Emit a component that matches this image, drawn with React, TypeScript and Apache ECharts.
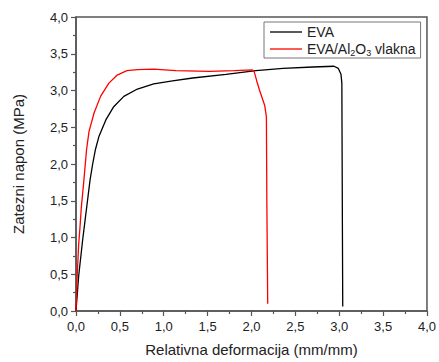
import React, { useEffect, useRef } from "react";
import * as echarts from "echarts";

const evaX = [0, 0.03, 0.076, 0.105, 0.13, 0.16, 0.19, 0.22, 0.26, 0.34, 0.43, 0.545, 0.7, 0.886, 1.1, 1.33, 1.71, 2.05, 2.36, 2.7, 2.94, 2.99, 3.02, 3.03, 3.035, 3.04];
const evaY = [0, 0.47, 0.97, 1.25, 1.49, 1.78, 2.0, 2.19, 2.37, 2.6, 2.78, 2.92, 3.02, 3.09, 3.13, 3.17, 3.22, 3.27, 3.3, 3.32, 3.33, 3.3, 3.22, 3.1, 1.5, 0.06];

const redX = [0, 0.01, 0.03, 0.045, 0.06, 0.09, 0.12, 0.148, 0.205, 0.28, 0.375, 0.47, 0.58, 0.7, 0.886, 1.14, 1.52, 1.8, 2.01, 2.03, 2.06, 2.09, 2.15, 2.17, 2.175, 2.185];
const redY = [0, 0.38, 0.9, 1.13, 1.4, 1.78, 2.19, 2.44, 2.69, 2.92, 3.1, 3.21, 3.27, 3.285, 3.29, 3.27, 3.26, 3.27, 3.28, 3.26, 3.13, 3.01, 2.8, 2.64, 1.5, 0.1];

const seriesNames = ["EVA", "EVA/Al2O3 vlakna"];
const xTitle = "Relativna deformacija (mm/mm)";
const yTitle = "Zatezni napon (MPa)";

const fmt = (v: number) => v.toFixed(1).replace(".", ",");
const FONT = "Liberation Sans, Arial, sans-serif";

export default function App() {
  const ref = useRef<HTMLDivElement>(null);
  useEffect(() => {
    if (!ref.current) return;
    const chart = echarts.init(ref.current, null, { renderer: "svg" });
    const axisCommon = {
      type: "value",
      min: 0,
      max: 4,
      interval: 0.5,
      splitLine: { show: false },
      axisLine: { show: true, lineStyle: { color: "#555", width: 1.5 } },
      axisTick: { show: true, inside: false, length: 5, lineStyle: { color: "#555", width: 1.2 } },
      minorTick: { show: true, splitNumber: 2, length: 3, lineStyle: { color: "#555", width: 1.2 } },
      axisLabel: { formatter: fmt, color: "#222", fontSize: 13, fontFamily: FONT },
      nameLocation: "middle",
      nameTextStyle: { fontSize: 15, color: "#222", fontFamily: FONT },
    };
    chart.setOption({
      animation: false,
      grid: { left: 76, right: 11, top: 17, bottom: 51, show: true, borderColor: "#555", borderWidth: 1.5, backgroundColor: "transparent" },
      xAxis: { ...axisCommon, name: xTitle, nameGap: 31, axisLabel: { ...axisCommon.axisLabel, margin: 9 } },
      yAxis: { ...axisCommon, name: yTitle, nameGap: 50, axisLabel: { ...axisCommon.axisLabel, margin: 8 } },
      legend: {
        left: 264,
        top: 22,
        orient: "vertical",
        icon: "rect",
        itemWidth: 32,
        itemHeight: 1.3,
        itemGap: 2,
        padding: [3, 5, 1, 6],
        borderColor: "#777",
        borderWidth: 1,
        data: seriesNames,
        formatter: (n: string) =>
          n === "EVA" ? "{a|EVA}" : "{a|EVA/Al}{s|2}{a|O}{s|3}{a| vlakna}",
        textStyle: {
          fontFamily: FONT,
          rich: {
            a: { fontSize: 14, color: "#222", fontFamily: FONT, lineHeight: 15 },
            s: { fontSize: 9, color: "#222", fontFamily: FONT, padding: [7, 0, 0, 0], lineHeight: 15 },
          },
        },
      },
      series: [
        {
          name: seriesNames[0],
          type: "line",
          symbol: "none",
          data: evaX.map((x, i) => [x, evaY[i]]),
          lineStyle: { color: "#000", width: 1.3 },
          itemStyle: { color: "#000" },
        },
        {
          name: seriesNames[1],
          type: "line",
          symbol: "none",
          data: redX.map((x, i) => [x, redY[i]]),
          lineStyle: { color: "#ff0000", width: 1.3 },
          itemStyle: { color: "#ff0000" },
        },
      ],
    });
    return () => chart.dispose();
  }, []);
  return <div ref={ref} style={{ width: 439, height: 362, position: "absolute", left: 0, top: 0 }} />;
}
